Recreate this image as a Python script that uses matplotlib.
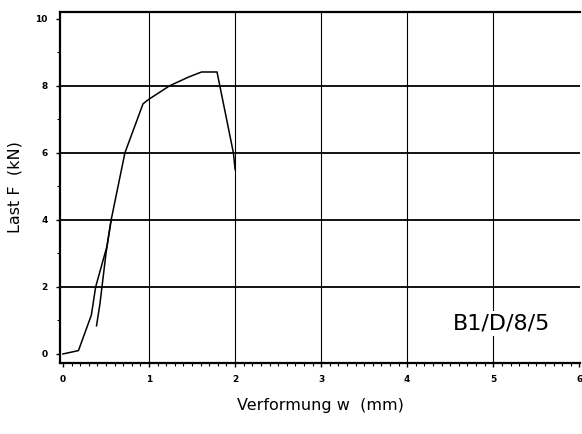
import numpy as np
import matplotlib.pyplot as plt
from matplotlib.ticker import MultipleLocator

# Belastungskurve (Erstbelastung)
w_last = [0.0, 0.18, 0.33, 0.38, 0.51, 0.56, 0.72, 0.93, 1.0, 1.24, 1.46, 1.61, 1.79, 1.98, 2.0]
f_last = [0.0, 0.1, 1.16, 2.0, 3.2, 4.0, 6.0, 7.46, 7.6, 8.0, 8.26, 8.41, 8.41, 6.0, 5.5]

# Wiederbelastungsast
w_wieder = [0.39, 0.43, 0.5, 0.56]
f_wieder = [0.84, 1.5, 3.0, 4.0]

x_ticks = [0, 1, 2, 3, 4, 5, 6]
y_ticks = [0, 2, 4, 6, 8, 10]

fig = plt.figure(figsize=(5.82, 4.34), dpi=100)
ax = fig.add_axes([0.103, 0.1636, 0.894, 0.8088])

ax.plot(w_last, f_last, color="black", lw=1.1)
ax.plot(w_wieder, f_wieder, color="black", lw=1.1)

ax.set_xlim(-0.035, 6.01)
ax.set_ylim(-0.27, 10.2)
ax.set_xticks(x_ticks)
ax.set_yticks(y_ticks)
ax.xaxis.set_minor_locator(MultipleLocator(0.1))
ax.yaxis.set_minor_locator(MultipleLocator(1))

# Gitterlinien (ohne 0 und 10)
for y in y_ticks[1:-1]:
    ax.axhline(y, color="black", lw=1.3, zorder=0)
for x in x_ticks[1:-1]:
    ax.axvline(x, color="black", lw=0.8, zorder=0)

for s in ["left", "bottom", "top"]:
    ax.spines[s].set_linewidth(1.6)
ax.spines["right"].set_visible(False)

ax.tick_params(which="major", length=3, width=1, labelsize=6.5, pad=6)
ax.tick_params(which="minor", length=2, width=0.8)
for lab in ax.get_xticklabels() + ax.get_yticklabels():
    lab.set_fontweight("bold")

ax.set_xlabel("Verformung w  (mm)", fontsize=11.5, labelpad=10)
ax.set_ylabel("Last F  (kN)", fontsize=11.5, labelpad=9)

ax.text(5.1, 0.9, "B1/D/8/5", fontsize=16, ha="center", va="center",
        bbox=dict(facecolor="white", edgecolor="none", pad=2))

fig.savefig("out.png", dpi=100)
